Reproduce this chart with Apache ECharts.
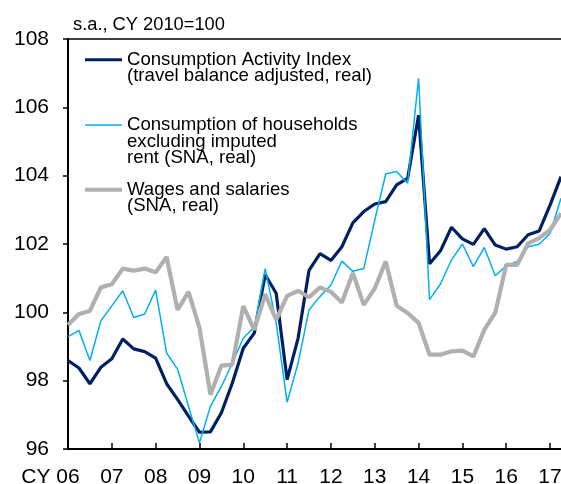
<!DOCTYPE html>
<html>
<head>
<meta charset="utf-8">
<script src="https://cdn.jsdelivr.net/npm/echarts@6/dist/echarts.min.js"></script>
<style>
    html, body { margin: 0; padding: 0; background: #fff; }
    #chart { width: 561px; height: 484px; }
</style>
</head>
<body>
<div id="chart"></div>
<script>
    // quarterly, 2006Q1 .. 2017Q2
    const quarters = []
    for (let y = 2006; y <= 2017; y++) {
        for (let q = 1; q <= 4; q++) {
            if (y === 2017 && q > 2) break
            quarters.push(y + 'Q' + q)
        }
    }

    const yTicks = [96, 98, 100, 102, 104, 106, 108]

    const consumptionActivity = [
        98.59, 98.37, 97.91, 98.39, 98.64, 99.22, 98.93, 98.85,
        98.66, 97.91, 97.45, 96.96, 96.49, 96.50, 97.06, 97.93,
        98.95, 99.39, 101.10, 100.56, 98.03, 99.24, 101.23, 101.72,
        101.52, 101.92, 102.62, 102.95, 103.17, 103.24, 103.73, 103.92,
        105.77, 101.42, 101.80, 102.49, 102.15, 101.99, 102.45, 101.97,
        101.85, 101.92, 102.27, 102.38, 103.14, 103.97
    ]

    const householdConsumption = [
        99.29, 99.47, 98.59, 99.75, 100.19, 100.63, 99.85, 99.95,
        100.65, 98.81, 98.34, 97.25, 96.18, 97.25, 97.83, 98.51,
        99.25, 99.56, 101.28, 99.70, 97.37, 98.51, 100.07, 100.46,
        100.80, 101.50, 101.20, 101.28, 102.70, 104.05, 104.12, 103.78,
        106.85, 100.37, 100.83, 101.53, 102.00, 101.34, 101.90, 101.07,
        101.36, 101.49, 101.92, 101.99, 102.31, 103.34
    ]

    const wagesSalaries = [
        99.63, 99.95, 100.04, 100.73, 100.82, 101.28, 101.22, 101.28,
        101.17, 101.62, 100.07, 100.60, 99.55, 97.59, 98.44, 98.47,
        100.18, 99.49, 100.53, 99.78, 100.48, 100.63, 100.44, 100.73,
        100.60, 100.29, 101.15, 100.22, 100.70, 101.49, 100.19, 99.98,
        99.69, 98.76, 98.76, 98.86, 98.88, 98.71, 99.49, 99.99,
        101.39, 101.39, 102.02, 102.17, 102.41, 102.90
    ]

    const names = [
        'Consumption Activity Index\n(travel balance adjusted, real)',
        'Consumption of households\nexcluding imputed\nrent (SNA, real)',
        'Wages and salaries\n(SNA, real)'
    ]

    const font = 'Liberation Sans, Arial, sans-serif'

    // one legend per item so the spacing stays fixed; blank lines in front
    // push the first text line onto the icon
    function legendFor(name, top, thick) {
        const lines = name.split('\n').length
        return {
            data: [name],
            orient: 'vertical',
            left: 85,
            top: top,
            padding: 0,
            icon: 'rect',
            itemWidth: 37,
            itemHeight: thick,
            selectedMode: false,
            formatter: function (n) { return '\n'.repeat(lines - 1) + n },
            textStyle: {
                fontFamily: font,
                fontSize: 18.6,
                lineHeight: 16.3,
                color: '#000'
            }
        }
    }

    const chart = echarts.init(document.getElementById('chart'))

    chart.setOption({
        animation: false,
        title: {
            text: 's.a., CY 2010=100',
            left: 73,
            top: 16,
            padding: 0,
            textStyle: { fontFamily: font, fontSize: 18.3, fontWeight: 'normal', color: '#000' }
        },
        legend: [
            legendFor(names[0], 34, 3),
            legendFor(names[1], 83, 1.5),
            legendFor(names[2], 164, 4)
        ],
        // labels at the bottom run to the edge of the window, keep the grid where it is
        grid: { left: 68, right: 0, top: 39, bottom: 35, containLabel: false, outerBoundsMode: 'none' },
        xAxis: [{
            type: 'category',
            data: quarters,
            boundaryGap: false,
            axisLine: { lineStyle: { color: '#000', width: 2 } },
            axisTick: { inside: true, length: 6, interval: 3, lineStyle: { color: '#000', width: 1.5 } },
            axisLabel: {
                interval: 3,
                margin: 18,
                fontFamily: font,
                fontSize: 21,
                color: '#000',
                formatter: function (val, idx) {
                    const yy = val.slice(2, 4)
                    if (idx === 0) return '{first|CY ' + yy + '}'
                    return yy
                },
                rich: {
                    first: { fontFamily: font, fontSize: 21, color: '#000', padding: [0, 35, 0, 0] }
                }
            },
            splitLine: { show: false }
        }, {
            // top border of the plot
            type: 'category',
            data: quarters,
            boundaryGap: false,
            position: 'top',
            axisLine: { lineStyle: { color: '#000', width: 1.5 } },
            axisTick: { show: false },
            axisLabel: { show: false }
        }],
        yAxis: {
            type: 'value',
            min: yTicks[0],
            max: yTicks[yTicks.length - 1],
            interval: 2,
            axisLine: { show: true, lineStyle: { color: '#000', width: 2 } },
            axisTick: { show: true, length: 5, lineStyle: { color: '#000', width: 1.5 } },
            axisLabel: { margin: 19, fontFamily: font, fontSize: 21, color: '#000' },
            splitLine: { show: false }
        },
        series: [{
            name: names[0],
            type: 'line',
            data: consumptionActivity,
            symbol: 'none',
            lineStyle: { color: '#002060', width: 3.2 },
            itemStyle: { color: '#002060' }
        }, {
            name: names[1],
            type: 'line',
            data: householdConsumption,
            symbol: 'none',
            lineStyle: { color: '#00B0F0', width: 1.5 },
            itemStyle: { color: '#00B0F0' }
        }, {
            name: names[2],
            type: 'line',
            data: wagesSalaries,
            symbol: 'none',
            lineStyle: { color: '#B0B0B0', width: 4.2 },
            itemStyle: { color: '#B0B0B0' }
        }]
    })
</script>
</body>
</html>
